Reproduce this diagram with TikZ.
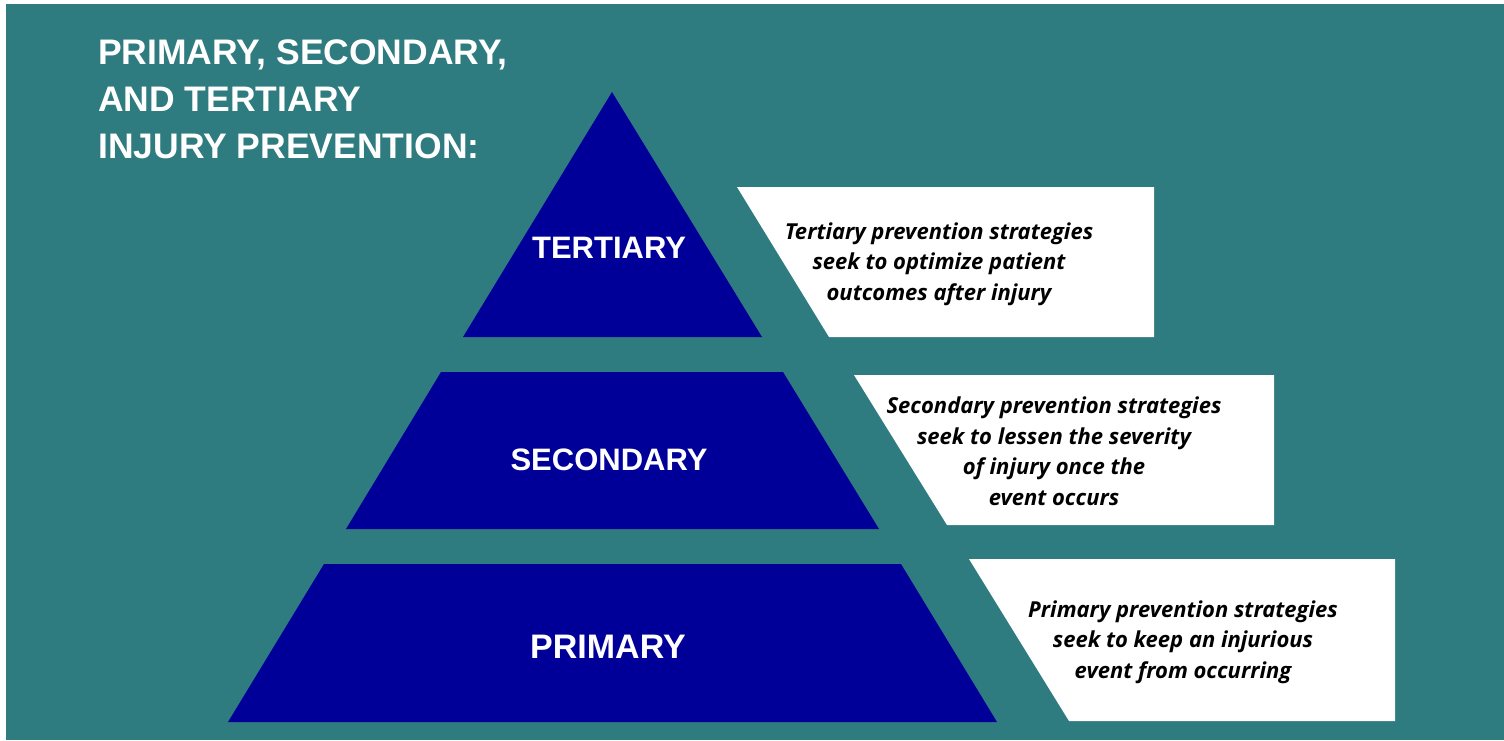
\documentclass[tikz,border=0pt]{standalone}
\usepackage{fontspec}
\setmainfont{Liberation Sans}
\newfontfamily\descfont{Open Sans}
\usetikzlibrary{positioning}
\definecolor{bgteal}{RGB}{46,123,128}
\definecolor{tiernavy}{RGB}{0,0,153}

\begin{document}
\begin{tikzpicture}[
    x=1pt, y=-1pt,
    tier/.style={fill=tiernavy},
    tierlabel/.style={text=white, inner sep=0pt, font=\fontsize{31}{31}\selectfont\bfseries},
    descbox/.style={fill=white},
    desc/.style={align=center, inner sep=0pt, text=black,
                 font=\descfont\fontsize{22}{30.5}\selectfont\bfseries\itshape},
    heading/.style={align=left, inner sep=0pt, text=white,
                    font=\fontsize{35.5}{47}\selectfont\bfseries}
]
\useasboundingbox (0,0) rectangle (1504,740);
\fill[white] (0,0) rectangle (1504,740);
\fill[bgteal] (6,4) rectangle (1504,740);

% Title
\node (title) [heading, anchor=north west] at (98,40) {PRIMARY, SECONDARY,\\AND TERTIARY\\INJURY PREVENTION:};

% Pyramid tiers
\fill[tier] (612,92) -- (762,337) -- (463,337) -- cycle;
\fill[tier] (441,372) -- (783,372) -- (879,529) -- (346,529) -- cycle;
\fill[tier] (324,564) -- (901,564) -- (997,722) -- (228,722) -- cycle;

\node (tertiary) [tierlabel] at (609,248) {TERTIARY};
\node (secondary) [tierlabel] at (609,460) {SECONDARY};
\node (primary) [tierlabel, font=\fontsize{34}{34}\selectfont\bfseries] at (608,647) {PRIMARY};

% Description boxes
\fill[descbox] (737,187) -- (1154,187) -- (1154,337) -- (829,337) -- cycle;
\fill[descbox] (854,375) -- (1274,375) -- (1274,525) -- (947,525) -- cycle;
\fill[descbox] (969,559) -- (1395,559) -- (1395,721) -- (1069,721) -- cycle;

\node (tertiarytext) [desc] at (939,264) {Tertiary prevention strategies\\seek to optimize patient\\outcomes after injury};
\node (secondarytext) [desc] at (1054,451) {Secondary prevention strategies\\seek to lessen the severity\\of injury once the\\event occurs};
\node (primarytext) [desc] at (1183,642) {Primary prevention strategies\\seek to keep an injurious\\event from occurring};

\end{tikzpicture}
\end{document}
